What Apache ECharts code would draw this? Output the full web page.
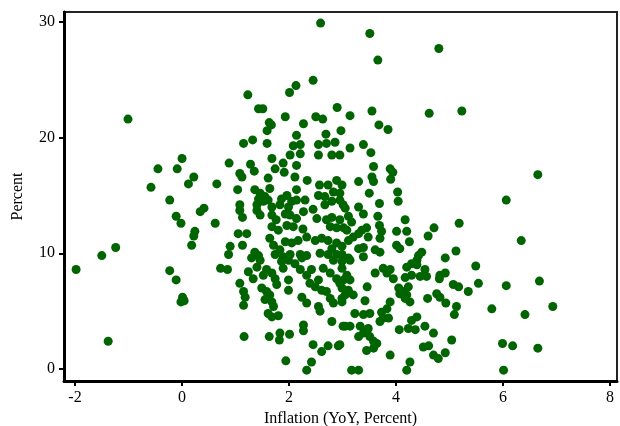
<!DOCTYPE html>
<html>
<head>
<meta charset="utf-8">
<script src="https://cdn.jsdelivr.net/npm/echarts@6/dist/echarts.min.js"></script>
<style>
  html, body { margin: 0; padding: 0; background: #fff; }
  #chart { width: 620px; height: 426px; }
</style>
</head>
<body>
<div id="chart"></div>
<script>
// 横轴：通胀（同比，%）
var inflation = [
  -1.01,
  2.59, 2.45, 2.13, 2.01, 1.23, 1.43, 1.51, 2.90, 1.93, 2.50, 2.63, 1.63, 1.67, 2.27, 1.59, 2.14, 2.69, 2.97,
  3.51, 4.80, 3.66, 3.14, 3.55, 4.62, 5.23, 3.68, 3.85,
  0.00, -0.45, -0.09, 0.22, 0.12, -0.58, -0.23, 0.34, 0.41, -0.11, -0.02, 0.24, 0.22, 0.18, -1.24, -1.50,
  -1.98, -0.23, -0.11, 0.01, -0.02, 0.04, -1.38,
  6.65, 6.06, 6.34,
  6.06, 6.68, 5.79, 6.41, 6.93, 5.99, 6.18, 6.65, 6.01,
  1.15, 1.32, 1.59, 2.08, 2.21, 2.55, 2.70, 2.86, 2.02, 2.21, 2.55, 2.80, 2.95, 1.68, 1.89, 2.14, 0.88, 1.28, 1.35, 1.08,
  1.12, 1.74, 1.91, 2.11, 1.61, 2.34, 2.57, 2.73, 2.89, 0.65, 1.04, 1.36, 1.46, 1.64, 2.14, 1.96, 1.86, 1.61, 1.55, 1.43,
  1.40, 1.08, 2.30, 2.05, 2.14, 2.55, 2.67, 2.83, 2.95, 1.83, 1.99, 1.52, 1.68, 2.45, 2.67, 2.80, 2.95, 3.01,
  1.08, 1.13, 1.40, 1.46, 1.68, 1.76, 1.93, 2.02, 2.14, 2.27, 2.52, 2.70, 2.80, 2.95, 0.62, 1.68, 1.80, 1.96, 2.08, 2.26,
  2.77, 2.89, 1.05, 1.21, 1.13, 1.64, 1.71, 1.83, 1.93, 2.05, 2.17, 2.33, 2.49, 2.61, 2.73, 2.89, 2.99, 2.80, 0.90, 0.87,
  1.36, 1.43, 1.74, 1.89, 2.02, 2.21, 2.33, 2.58, 2.73, 2.89,
  3.14, 3.39, 3.53, 3.58, 3.89, 3.94, 3.90, 3.55, 3.58, 3.30, 2.99, 3.50, 4.03, 4.04, 3.69, 3.30, 3.39, 3.05, 3.11, 3.17,
  3.66, 4.17, 5.18, 4.71, 3.69, 3.73, 3.70, 3.36, 3.45, 3.30, 3.48, 3.02, 3.08, 4.01, 4.20, 4.25, 4.60, 3.11, 3.20, 4.01,
  4.07, 3.30, 3.39, 3.61, 3.70, 4.48, 4.42, 5.12, 4.92, 2.99, 3.11, 3.39,
  0.72, 0.85, 1.24, 1.33, 1.40, 1.08, 1.15, 1.18, 1.15, 1.52, 1.58, 1.68, 1.74, 1.77, 1.49, 1.58, 1.64, 1.55, 1.68, 1.71,
  1.61, 1.68, 1.80, 1.99, 1.99, 1.86, 1.99, 2.11, 2.24, 1.89, 2.21, 2.33, 2.42, 2.39, 2.49, 2.55, 2.61, 2.24, 2.33, 2.55,
  2.58, 2.70, 2.77, 2.83, 2.99, 2.80, 3.01, 2.27, 2.27, 1.16, 1.63, 1.83, 1.82, 2.01, 2.45, 2.61, 2.73, 2.92, 1.94, 2.42,
  2.33, 2.64, 2.77, 2.89, 2.95, 2.83, 2.99, 1.30, 1.46,
  3.14, 2.99, 3.08, 3.02, 3.14, 2.99, 3.11, 3.05, 3.20, 2.99, 3.46, 3.42, 3.61, 3.76, 3.89, 3.95, 3.83, 4.20, 4.29, 4.39,
  4.54, 4.57, 4.45, 4.17, 4.29, 4.39, 5.49, 4.82, 4.92, 4.81, 5.07, 5.17, 5.35, 5.54, 4.05, 4.07, 4.14, 4.23, 4.20, 4.26,
  4.17, 4.59, 4.76, 4.82, 4.93, 5.13, 5.09, 3.89, 3.83, 3.73, 3.76, 3.86, 3.70, 3.23, 3.39, 3.51, 3.05, 3.14, 3.33, 3.48,
  3.39, 3.30, 3.51, 3.58, 3.64, 3.45, 3.58, 2.95, 4.06, 4.23, 4.36, 4.29, 4.39, 4.54, 4.70, 5.04, 4.51, 4.61, 4.70, 4.79,
  4.92, 3.89, 4.26, 4.20, 3.17, 3.30
];

// 纵轴：百分比
var percent = [
  21.6,
  29.9, 24.95, 24.5, 23.9, 23.7, 22.5, 22.5, 22.6, 21.8, 21.8, 21.6, 21.3, 21.1, 21.2, 20.6, 20.2, 20.3, 20.6,
  29.0, 27.7, 26.7, 21.9, 22.3, 22.1, 22.3, 21.1, 20.7,
  18.2, 17.3, 17.3, 16.6, 16.0, 15.7, 14.6, 13.6, 13.9, 13.2, 12.6, 11.9, 11.5, 10.7, 10.5, 9.8,
  8.6, 8.5, 7.7, 6.2, 5.8, 5.9, 2.4,
  16.8, 14.6, 11.1,
  7.2, 7.6, 5.2, 4.7, 5.4, 2.2, 2.0, 1.8, -0.1,
  19.5, 19.8, 19.5, 19.3, 19.4, 19.4, 19.5, 19.6, 18.5, 18.6, 18.5, 18.5, 18.5, 18.2, 17.8, 17.6, 17.8, 17.7, 17.1, 16.9,
  16.6, 17.3, 17.0, 16.6, 16.5, 16.3, 15.9, 15.9, 16.3, 16.0, 15.5, 15.5, 15.2, 15.6, 15.5, 15.0, 14.7, 14.6, 14.9, 14.7,
  14.2, 14.2, 14.6, 14.5, 14.6, 15.0, 14.9, 15.3, 15.2, 14.2, 14.0, 14.5, 14.0, 13.8, 14.2, 14.5, 14.6, 14.2,
  13.7, 13.1, 13.7, 13.3, 13.3, 12.9, 13.4, 13.3, 13.0, 13.6, 13.0, 12.9, 13.1, 12.9, 12.6, 12.3, 12.0, 12.4, 12.3, 12.1,
  12.3, 12.2, 11.7, 11.7, 10.7, 11.3, 10.7, 10.3, 11.0, 10.9, 11.1, 11.4, 11.1, 11.3, 11.1, 10.9, 10.6, 10.4, 10.6, 9.9,
  10.1, 9.8, 9.9, 9.7, 9.9, 9.9, 9.8, 10.0, 9.9, 9.9,
  19.1, 19.4, 18.7, 17.5, 17.3, 17.0, 16.4, 16.6, 16.2, 16.2, 15.9, 15.2, 15.3, 14.5, 14.3, 14.0, 13.4, 13.9, 13.2, 12.7,
  13.2, 12.9, 12.6, 12.2, 12.4, 11.9, 11.3, 12.0, 12.2, 11.7, 11.4, 12.2, 12.0, 11.9, 11.9, 11.0, 11.5, 11.1, 11.4, 10.7,
  10.4, 10.4, 10.5, 10.3, 10.1, 10.1, 9.8, 10.2, 9.6, 9.9, 9.6, 9.7,
  8.7, 8.6, 8.4, 7.8, 8.8, 7.4, 6.7, 6.2, 5.5, 8.1, 8.6, 8.3, 7.8, 7.3, 7.0, 6.7, 6.4, 6.0, 5.8, 5.4,
  4.8, 4.5, 4.6, 7.7, 6.8, 9.3, 9.4, 9.1, 9.6, 8.7, 8.6, 8.1, 8.6, 7.4, 7.1, 7.7, 6.8, 6.2, 5.7, 5.4,
  5.0, 6.7, 6.1, 5.7, 6.1, 4.1, 3.7, 3.8, 3.3, 2.8, 2.8, 3.1, 2.5, 3.0, 2.1, 1.5, 2.0, 2.0, 0.7, 0.6,
  -0.1, 8.7, 8.3, 7.8, 7.4, 9.4, 9.3, 9.6, 9.4,
  9.4, 8.7, 8.1, 7.7, 7.7, 7.0, 6.8, 6.4, 6.4, 5.8, 7.1, 5.9, 8.3, 8.7, 8.6, 7.8, 8.3, 8.8, 9.1, 9.0,
  8.6, 8.0, 8.0, 7.9, 8.1, 9.4, 8.9, 8.1, 8.3, 7.8, 7.3, 7.1, 6.7, 7.4, 7.0, 6.5, 6.7, 7.1, 6.4, 5.8,
  6.1, 6.1, 6.5, 6.2, 5.7, 5.4, 4.7, 5.8, 5.2, 4.9, 4.4, 4.4, 4.1, 4.8, 4.7, 4.8, 3.7, 3.7, 3.7, 3.5,
  3.1, 2.8, 2.8, 2.4, 2.2, 1.6, 1.8, 2.1, 3.4, 3.5, 3.4, 4.2, 4.5, 3.7, 3.1, 2.5, 1.9, 2.0, 1.2, 0.9,
  1.4, 1.2, 0.6, -0.1, -0.1, -0.1
];

var xTicks = [-2, 0, 2, 4, 6, 8];
var yTicks = [0, 10, 20, 30];

var points = [];
for (var i = 0; i < inflation.length; i++) {
  points.push([inflation[i], percent[i]]);
}

var chart = echarts.init(document.getElementById('chart'));
var font = '"Liberation Serif", "Times New Roman", serif';

chart.setOption({
  animation: false,
  grid: {
    left: 64, right: 3, top: 12, bottom: 45,
    outerBoundsMode: 'none',
    containLabel: false,
    show: true,
    borderColor: '#222',
    borderWidth: 2
  },
  xAxis: {
    type: 'value',
    min: -2.206,
    max: 8.13,
    name: 'Inflation (YoY, Percent)',
    nameLocation: 'middle',
    nameGap: 27,
    nameTextStyle: { fontFamily: font, fontSize: 16, color: '#000' },
    splitLine: { show: false },
    axisLine: { onZero: false, lineStyle: { color: '#000', width: 3 } },
    axisTick: { length: 5, lineStyle: { color: '#000', width: 2 }, customValues: xTicks },
    axisLabel: { fontFamily: font, fontSize: 16, color: '#000', margin: 9, customValues: xTicks }
  },
  yAxis: {
    type: 'value',
    min: -1.04,
    max: 30.86,
    name: 'Percent',
    nameLocation: 'middle',
    nameGap: 38,
    nameTextStyle: { fontFamily: font, fontSize: 16, color: '#000' },
    splitLine: { show: false },
    axisLine: { show: true, onZero: false, lineStyle: { color: '#000', width: 3 } },
    axisTick: { show: true, length: 5, lineStyle: { color: '#000', width: 2 }, customValues: yTicks },
    axisLabel: { fontFamily: font, fontSize: 16, color: '#000', margin: 9, customValues: yTicks }
  },
  series: [{
    type: 'scatter',
    data: points,
    symbolSize: 9,
    itemStyle: { color: '#006400', opacity: 1 }
  }]
});
</script>
</body>
</html>
